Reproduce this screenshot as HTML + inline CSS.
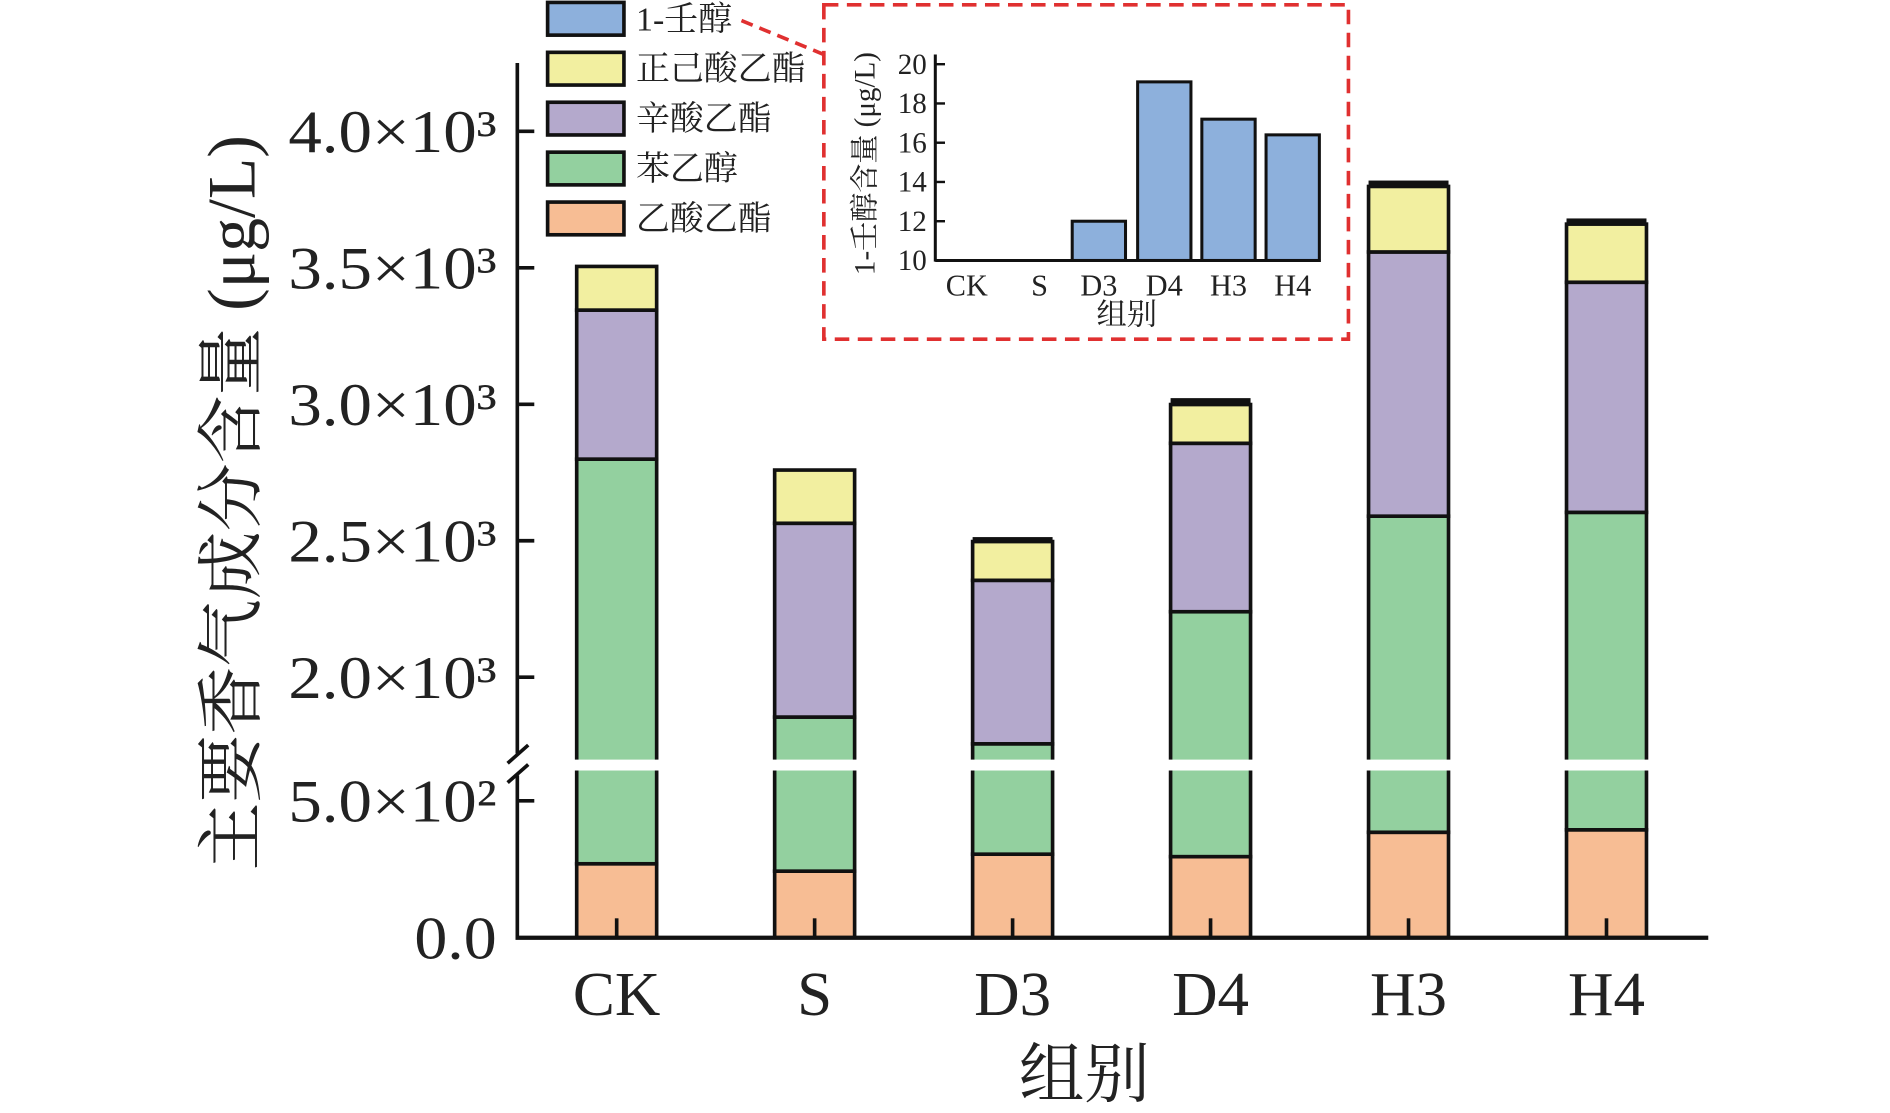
<!DOCTYPE html>
<html><head><meta charset="utf-8"><style>
html,body{margin:0;padding:0;background:#fff;}
svg{display:block;}
text{font-family:"Liberation Serif","Noto Serif CJK SC",serif;fill:#222;}
</style></head><body>
<svg id="chart" width="1890" height="1113" viewBox="0 0 1560 918.7" preserveAspectRatio="none" xmlns="http://www.w3.org/2000/svg">
<g id="main"></g>
<g id="inset"></g>
<g id="legend"></g>
</svg>
<script>
const categories = ["CK","S","D3","D4","H3","H4"];
const seriesNames = ["乙酸乙酯","苯乙醇","辛酸乙酯","正己酸乙酯","1-壬醇"];
const seriesColors = ["#f7bd94","#93d09f","#b4a9cc","#f2efa0","#8db0dc"];
const ethylAcetate = [270,243,305,296,385,394];
const phenylethanol = [2529,1611,1451,1944,2205,2210];
const ethylOctanoate = [546,710,599,617,968,843];
const ethylHexanoate = [160,195,142,142,240,213];
const nonanol = [0,0,12.0,19.1,17.2,16.4];
const yTickValues = [0,500,2000,2500,3000,3500,4000];
const yTickLabels = ["0.0","5.0×10²","2.0×10³","2.5×10³","3.0×10³","3.5×10³","4.0×10³"];
const insetTickValues = [10,12,14,16,18,20];

const NS="http://www.w3.org/2000/svg";
function mk(tag,attrs,parent){const e=document.createElementNS(NS,tag);for(const k in attrs)e.setAttribute(k,attrs[k]);parent.appendChild(e);return e;}
const main=document.getElementById('main');
const X0=427, XR=1410, Y0=774;
function xPos(i){return 509+i*163.4;}
function yPos(v){ if(v<=650) return Y0 - v*0.226; return 559-(v-2000)*0.2253; }
const BW=66;
const series=[ethylAcetate,phenylethanol,ethylOctanoate,ethylHexanoate];
categories.forEach((c,i)=>{
  let cum=0;
  series.forEach((s,k)=>{
    const y1=yPos(cum), y2=yPos(cum+s[i]);
    const r=mk('rect',{x:xPos(i)-BW/2,y:y2,width:BW,height:y1-y2,fill:seriesColors[k],stroke:'#111','stroke-width':3},main);
    
    
    cum+=s[i];
  });
  if(nonanol[i]>0){
    const yt=yPos(cum)-nonanol[i]*0.2253-1;
    const r=mk('rect',{x:xPos(i)-BW/2,y:yt,width:BW,height:yPos(cum)-yt,fill:'#111'},main);
    
    
  }
  mk('rect',{x:xPos(i)-BW/2-4,y:627,width:BW+8,height:9,fill:'#fff'},main);
  mk('line',{x1:xPos(i),y1:Y0,x2:xPos(i),y2:Y0-16,stroke:'#111','stroke-width':3},main);
  const t=mk('text',{x:xPos(i),y:Y0+64,'font-size':52,'text-anchor':'middle'},main);
  t.textContent=c;
  
  
});
mk('line',{x1:X0,y1:52,x2:X0,y2:622,stroke:'#111','stroke-width':3},main);
mk('line',{x1:X0,y1:640,x2:X0,y2:Y0+1.5,stroke:'#111','stroke-width':3},main);
mk('line',{x1:419,y1:630,x2:436,y2:615,stroke:'#111','stroke-width':3},main);
mk('line',{x1:419,y1:646,x2:436,y2:631,stroke:'#111','stroke-width':3},main);
mk('line',{x1:X0-1.5,y1:Y0,x2:XR,y2:Y0,stroke:'#111','stroke-width':3.5},main);
yTickValues.forEach((v,j)=>{
  const y=yPos(v);
  if(v>0) mk('line',{x1:X0,y1:y,x2:X0+14,y2:y,stroke:'#111','stroke-width':3},main);
  const t=mk('text',{x:410,y:y+17,'font-size':50,'text-anchor':'end',textLength:v===0?68:172,lengthAdjust:'spacingAndGlyphs'},main);
  t.textContent=yTickLabels[j];
  
  
});
const yt=mk('text',{x:0,y:0,'font-size':56,'text-anchor':'middle',transform:'translate(210,415) rotate(-90)'},main);
yt.textContent='主要香气成分含量 (μg/L)';


const xt=mk('text',{x:895,y:905,'font-size':54,'text-anchor':'middle'},main);
xt.textContent='组别';



const inset=document.getElementById('inset');
const box=mk('rect',{x:680,y:4,width:433,height:276,fill:'none',stroke:'#e03030','stroke-width':3,'stroke-dasharray':'12,7'},inset);


mk('line',{x1:612,y1:17,x2:680,y2:45,stroke:'#e03030','stroke-width':3,'stroke-dasharray':'10,6'},inset);
const IX0=772, IY0=215;
function iy(v){return IY0-(v-10)*16.2;}
const ixs=[798,858,907,961,1014,1067];
categories.forEach((c,i)=>{
  if(nonanol[i]>10){
    const r=mk('rect',{x:ixs[i]-22,y:iy(nonanol[i]),width:44,height:IY0-iy(nonanol[i]),fill:seriesColors[4],stroke:'#111','stroke-width':2.5},inset);
    
    
  }
  const t=mk('text',{x:ixs[i],y:244,'font-size':25,'text-anchor':'middle'},inset);
  t.textContent=c;
  
  
});
mk('line',{x1:IX0,y1:45,x2:IX0,y2:IY0+1,stroke:'#111','stroke-width':2.5},inset);
mk('line',{x1:IX0,y1:IY0,x2:1090,y2:IY0,stroke:'#111','stroke-width':2.5},inset);
insetTickValues.forEach(v=>{
  mk('line',{x1:IX0,y1:iy(v),x2:IX0+8,y2:iy(v),stroke:'#111','stroke-width':2},inset);
  const t=mk('text',{x:765,y:iy(v)+8,'font-size':24,'text-anchor':'end'},inset);
  t.textContent=v;
  
  
});
const it=mk('text',{x:0,y:0,'font-size':24,'text-anchor':'middle',transform:'translate(722,135) rotate(-90)'},inset);
it.textContent='1-壬醇含量 (μg/L)';


const ixt=mk('text',{x:930,y:268,'font-size':25,'text-anchor':'middle'},inset);
ixt.textContent='组别';



const legend=document.getElementById('legend');
const order=[4,3,2,1,0];
order.forEach((k,j)=>{
  const cy=15+j*41.2;
  const r=mk('rect',{x:452,y:cy-13,width:63,height:27,fill:seriesColors[k],stroke:'#111','stroke-width':3},legend);
  
  
  const t=mk('text',{x:525,y:cy+10,'font-size':28},legend);
  t.textContent=seriesNames[k];
  
  
});
</script>
</body></html>
